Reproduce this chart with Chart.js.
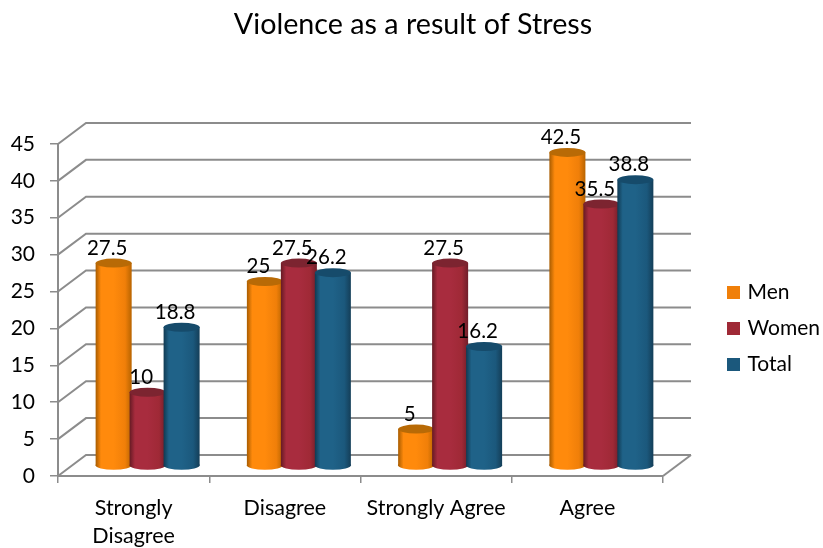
<!DOCTYPE html>
<html>
<head>
<meta charset="utf-8">
<title>Violence as a result of Stress</title>
<script src="https://cdn.jsdelivr.net/npm/chart.js@4"></script>
<style>
	html, body { margin: 0; padding: 0; background: #fff; }
	canvas { display: block; }
</style>
</head>
<body>
<canvas id="chart" width="823" height="548"></canvas>
<script>
const categories = [['Strongly', 'Disagree'], 'Disagree', 'Strongly Agree', 'Agree'];
const men = [27.5, 25, 5, 42.5];
const women = [10, 27.5, 27.5, 35.5];
const total = [18.8, 26.2, 16.2, 38.8];

const FONT = 'Lato';
const TEXT = '#000';
const AXIS = '#8c8c8c';

// colours of each cylinder: side gradient stops, lid
const shades = [
	{ edgeL: '#a85c00', mid: '#ff8a0c', body: '#f07f09', edgeR: '#b86400', lid: '#b86a06' },
	{ edgeL: '#661a24', mid: '#a82c3e', body: '#9f2936', edgeR: '#701e2a', lid: '#7c2430' },
	{ edgeL: '#103a52', mid: '#1f6288', body: '#1b587c', edgeR: '#143e58', lid: '#164b6b' }
];

// the walls sit behind the front axes, the bars halfway between
const WALL_DX = 28, WALL_DY = 21;
const BAR_DX = 14, BAR_DY = 10;
const LID_RY = 4.5;

function sideGradient(ctx, left, right, s) {
	const g = ctx.createLinearGradient(left, 0, right, 0);
	g.addColorStop(0, s.edgeL);
	g.addColorStop(0.15, s.mid);
	g.addColorStop(0.5, s.mid);
	g.addColorStop(0.82, s.body);
	g.addColorStop(1, s.edgeR);
	return g;
}

function drawWalls(chart) {
	const { ctx, chartArea: area, scales: { y } } = chart;
	ctx.save();
	ctx.strokeStyle = AXIS;
	ctx.lineWidth = 2;
	y.ticks.forEach((tick) => {
		const py = y.getPixelForValue(tick.value);
		ctx.beginPath();
		ctx.moveTo(area.left, py);
		ctx.lineTo(area.left + WALL_DX, py - WALL_DY);
		ctx.lineTo(area.right + WALL_DX, py - WALL_DY);
		ctx.stroke();
	});
	ctx.beginPath();
	ctx.moveTo(area.right, area.bottom);
	ctx.lineTo(area.right + WALL_DX, area.bottom - WALL_DY);
	ctx.stroke();
	ctx.restore();
}

function drawCylinder(ctx, bar, s) {
	const half = bar.width / 2;
	const fill = sideGradient(ctx, bar.x - half, bar.x + half, s);
	ctx.fillStyle = fill;
	ctx.beginPath();
	ctx.ellipse(bar.x, bar.base, half, LID_RY, 0, 0, Math.PI * 2);
	ctx.fill();
	bar.options = Object.assign({}, bar.options, { backgroundColor: fill, borderWidth: 0 });
	bar.draw(ctx);
	ctx.fillStyle = s.lid;
	ctx.beginPath();
	ctx.ellipse(bar.x, bar.y, half, LID_RY, 0, 0, Math.PI * 2);
	ctx.fill();
}

// bars are painted left to right, so every series overlaps the one before it
const cylinders = {
	id: 'cylinders',
	afterLayout(chart) {
		const legend = chart.legend;
		legend.left = 715;
		legend.right = 823;
		legend.top = 267;
		legend.bottom = 548;
		// centre the title on the whole canvas, not the plot
		chart.titleBlock.left = 0;
		chart.titleBlock.right = 826;
	},
	beforeDatasetsDraw(chart) {
		const ctx = chart.ctx;
		drawWalls(chart);
		ctx.save();
		ctx.translate(BAR_DX, -BAR_DY);
		chart.data.datasets.forEach((dataset, i) => {
			chart.getDatasetMeta(i).data.forEach((bar) => drawCylinder(ctx, bar, shades[i]));
		});
		ctx.restore();

		ctx.save();
		ctx.font = '20.5px ' + FONT;
		ctx.fillStyle = TEXT;
		ctx.textAlign = 'center';
		ctx.textBaseline = 'middle';
		chart.data.datasets.forEach((dataset, i) => {
			chart.getDatasetMeta(i).data.forEach((bar, j) => {
				ctx.fillText(String(dataset.data[j]), bar.x + BAR_DX - 6.5, bar.y - BAR_DY - 15);
			});
		});
		ctx.restore();
		return false;
	}
};

new Chart(document.getElementById('chart'), {
	type: 'bar',
	data: {
		labels: categories,
		datasets: [
			// the wide border only fattens the legend swatch, bars are drawn without it
			{ label: 'Men', data: men, backgroundColor: '#f07f09', borderColor: '#f07f09', borderWidth: 6 },
			{ label: 'Women', data: women, backgroundColor: '#9f2936', borderColor: '#9f2936', borderWidth: 6 },
			{ label: 'Total', data: total, backgroundColor: '#1b587c', borderColor: '#1b587c', borderWidth: 6 }
		]
	},
	options: {
		responsive: false,
		animation: false,
		categoryPercentage: 0.674,
		barPercentage: 1.06,
		layout: { padding: { left: 0, right: 160, top: 0, bottom: 0 } },
		scales: {
			x: {
				afterFit: (scale) => { scale.height = 72; },
				grid: { drawOnChartArea: false, tickLength: 7, color: AXIS, lineWidth: 1.5 },
				border: { color: AXIS, width: 2 },
				ticks: {
					color: TEXT,
					padding: 11,
					maxRotation: 0,
					autoSkip: false,
					font: { family: FONT, size: 21.5, lineHeight: 1.3 }
				}
			},
			y: {
				min: 0,
				max: 45,
				afterFit: (scale) => { scale.width = 58; },
				grid: { drawOnChartArea: false, tickLength: 8, color: AXIS, lineWidth: 1.5 },
				border: { color: AXIS, width: 2 },
				ticks: {
					stepSize: 5,
					color: TEXT,
					padding: 15,
					font: { family: FONT, size: 21 }
				}
			}
		},
		plugins: {
			title: {
				display: true,
				text: 'Violence as a result of Stress',
				color: TEXT,
				font: { family: FONT, size: 28.7, weight: 'normal' },
				padding: { top: 7.5, bottom: 102 }
			},
			legend: {
				position: 'chartArea',
				align: 'start',
				labels: {
					boxWidth: 7,
					boxHeight: 7,
					padding: 15,
					color: TEXT,
					font: { family: FONT, size: 21 }
				}
			},
			tooltip: { enabled: false }
		}
	},
	plugins: [cylinders]
});
</script>
</body>
</html>
